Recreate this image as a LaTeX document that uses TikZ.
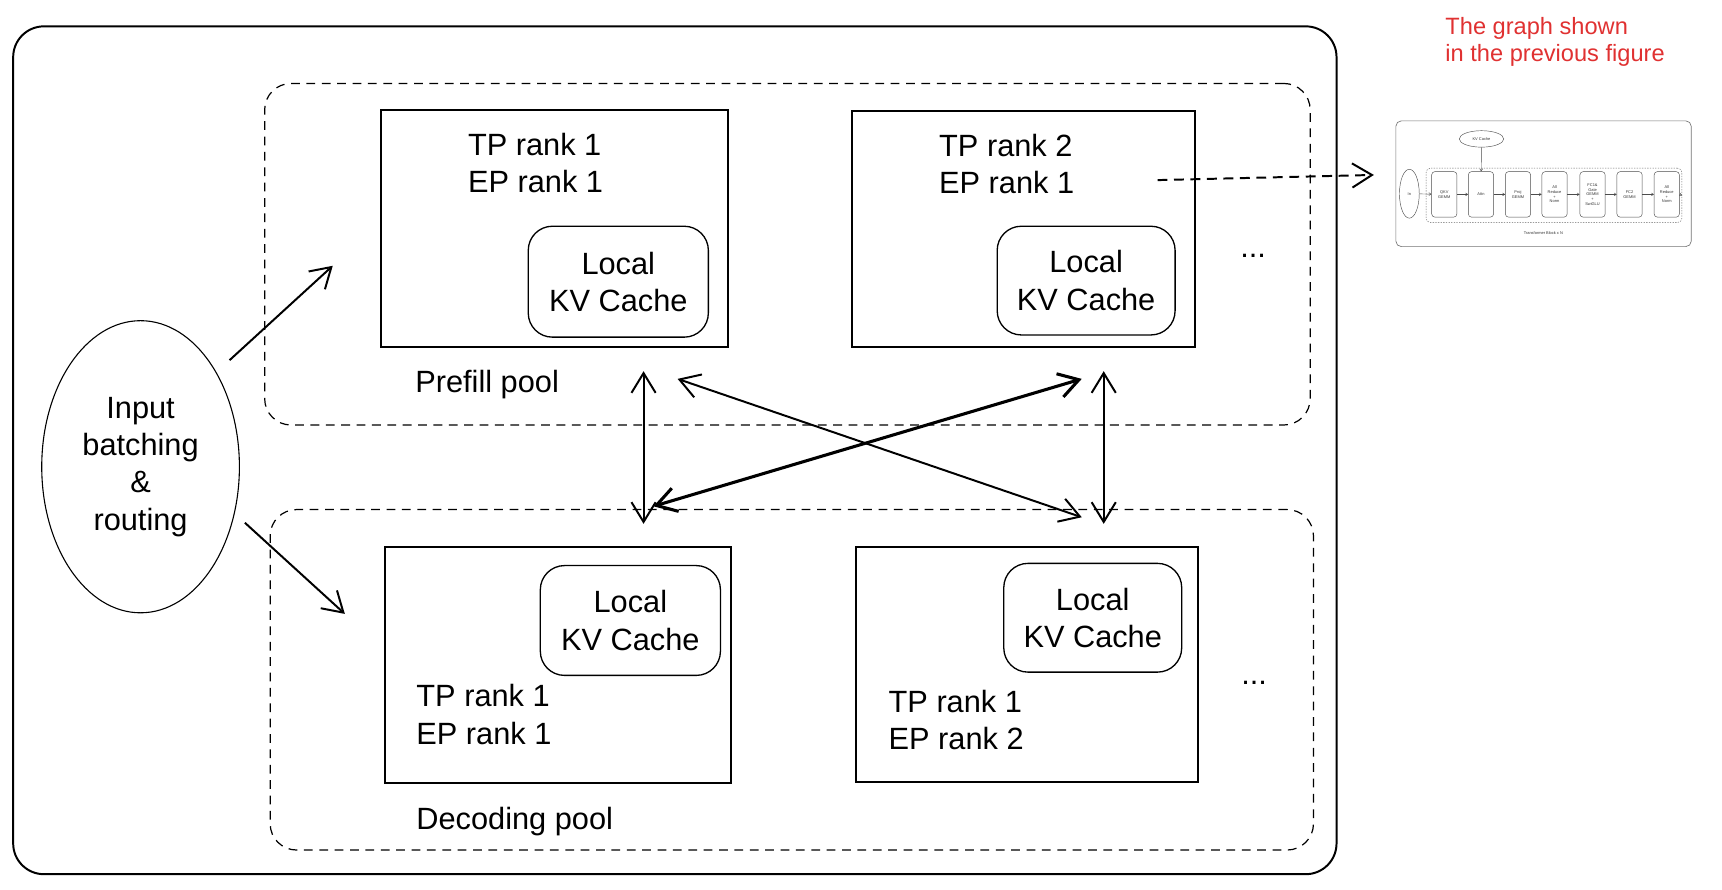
\documentclass[tikz,border=0pt]{standalone}
\usepackage{fontspec}
\setmainfont{Liberation Sans}
\usepackage{tikz}
\usetikzlibrary{shapes,arrows.meta}

\definecolor{notered}{HTML}{E03131}

\begin{document}
\begin{tikzpicture}[x=1pt,y=-1pt,
  >={Straight Barb[length=18pt,width=22pt]},
  lbl/.style={font=\fontsize{28}{34}\selectfont,align=left,inner sep=0pt},
  pool/.style={draw,line width=1.1pt,dash pattern=on 8pt off 6pt,rounded corners=24pt},
  rankbox/.style={draw,line width=1.8pt,inner sep=0pt},
  cache/.style={draw,line width=1.2pt,rounded corners=22pt,inner sep=0pt,lbl,align=center},
  link/.style={<->,line width=1.8pt},
  tiny/.style={font=\fontsize{3.6}{4.3}\selectfont,align=center,inner sep=0pt,text=black!80},
  blk/.style={draw=black!70,line width=0.4pt,rounded corners=3pt,minimum width=23pt,minimum height=41.5pt,tiny},
  flow/.style={->,>={Straight Barb[length=2pt,width=2.6pt]},line width=0.4pt,black!70}]
  \useasboundingbox (-1,0) rectangle (1567,810);

  \node[draw,line width=1.8pt,rounded corners=28pt,minimum width=1205pt,minimum height=772pt] (frame) at (613.5,410) {};
  \node[pool,minimum width=952pt,minimum height=311pt] (pre) at (716,231.5) {};
  \node[pool,minimum width=950pt,minimum height=310pt] (dec) at (720,619) {};

  % prefill pool
  \node[rankbox,minimum width=316pt,minimum height=216pt] (pf1) at (504,208) {};
  \node[rankbox,minimum width=312pt,minimum height=215pt] (pf2) at (931,208.5) {};
  \node[lbl,anchor=west] (pf1t) at (425,148.5) {TP rank 1\\EP rank 1};
  \node[lbl,anchor=west] (pf2t) at (854,149.5) {TP rank 2\\EP rank 1};
  \node[cache,minimum width=164pt,minimum height=101pt] (kvp1) at (562,256.5) {Local\\KV Cache};
  \node[cache,minimum width=162pt,minimum height=99pt] (kvp2) at (988,255.5) {Local\\KV Cache};
  \node[lbl] (pmore) at (1140,233) {...};
  \node[lbl,anchor=base west] (prelbl) at (377,357) {Prefill pool};

  % decoding pool
  \node[rankbox,minimum width=315pt,minimum height=215pt] (dc1) at (507.5,605.5) {};
  \node[rankbox,minimum width=312pt,minimum height=214pt] (dc2) at (934,605) {};
  \node[cache,minimum width=164pt,minimum height=100pt] (kvd1) at (573,565) {Local\\KV Cache};
  \node[cache,minimum width=162pt,minimum height=99pt] (kvd2) at (994,562.5) {Local\\KV Cache};
  \node[lbl,anchor=west] (dc1t) at (378,650.5) {TP rank 1\\EP rank 1};
  \node[lbl,anchor=west] (dc2t) at (808,655.5) {TP rank 1\\EP rank 2};
  \node[lbl] (dmore) at (1141,622) {...};
  \node[lbl,anchor=base west] (declbl) at (378,755) {Decoding pool};

  % router
  \node[draw,ellipse,line width=1pt,minimum width=180pt,minimum height=266pt,lbl,align=center] (inp) at (127,425) {Input\\batching\\\&\\routing};
  \coordinate (inA) at (208,328);
  \coordinate (inB) at (222,476);
  \coordinate (toPre) at (302,242);
  \coordinate (toDec) at (313,559);
  \draw[->,line width=1.8pt] (inA) -- (toPre);
  \draw[->,line width=1.8pt] (inB) -- (toDec);

  % transfers between pools
  \coordinate (pfL) at (585,338);
  \coordinate (dcL) at (585,477);
  \coordinate (pfR) at (1004,338);
  \coordinate (dcR) at (1004,477);
  \coordinate (pfX) at (616,345);
  \coordinate (dcX) at (984,471);
  \coordinate (pfY) at (984,345);
  \coordinate (dcY) at (594,461);
  \draw[link] (pfL) -- (dcL);
  \draw[link] (pfR) -- (dcR);
  \draw[link] (pfX) -- (dcX);
  \draw[link,line width=2.8pt] (dcY) -- (pfY);

  % note and the graph from before
  \node[anchor=west,align=left,inner sep=0pt,text=notered,font=\fontsize{21.5}{24.5}\selectfont] (note) at (1315,38) {The graph shown\\in the previous figure};
  \node[draw=black!55,line width=0.6pt,rounded corners=5pt,minimum width=269pt,minimum height=114.5pt] (sg) at (1404.5,167.3) {};
  \coordinate (hop) at (1053,164);
  \coordinate (shot) at (1250,159.3);
  \draw[->,line width=1.8pt,dash pattern=on 9pt off 6pt] (hop) -- (shot);

  \node[draw=black!70,ellipse,line width=0.4pt,minimum width=40.5pt,minimum height=15pt,tiny] (kvc) at (1348,126.5) {KV Cache};
  \node[draw=black!70,ellipse,line width=0.4pt,minimum width=18pt,minimum height=44.5pt,tiny] (in) at (1282.3,176.4) {In};
  \node[draw=black!60,line width=0.4pt,dash pattern=on 1.2pt off 1.2pt,rounded corners=4pt,minimum width=233pt,minimum height=49.5pt] (tb) at (1414,177.9) {};
  \node[blk] (b1) at (1314.1,177) {QKV\\GEMM};
  \node[blk] (b2) at (1347.5,177) {Attn};
  \node[blk] (b3) at (1381.2,177) {Proj\\GEMM};
  \node[blk] (b4) at (1414.5,177) {All\\Reduce\\+\\Norm};
  \node[blk] (b5) at (1449.1,177) {FC1\&\\Gate\\GEMM\\+\\SwiGLU};
  \node[blk] (b6) at (1482.8,177) {FC2\\GEMM};
  \node[blk] (b7) at (1516.7,177) {All\\Reduce\\+\\Norm};
  \node[tiny] (tblbl) at (1404.3,212.4) {Transformer Block x N};
  \draw[flow] (kvc) -- (b2);
  \draw[flow] (in) -- (b1);
  \draw[flow] (b1) -- (b2);
  \draw[flow] (b2) -- (b3);
  \draw[flow] (b3) -- (b4);
  \draw[flow] (b4) -- (b5);
  \draw[flow] (b5) -- (b6);
  \draw[flow] (b6) -- (b7);
  \draw[flow] (b7.east) -- (tb.east);
\end{tikzpicture}
\end{document}
